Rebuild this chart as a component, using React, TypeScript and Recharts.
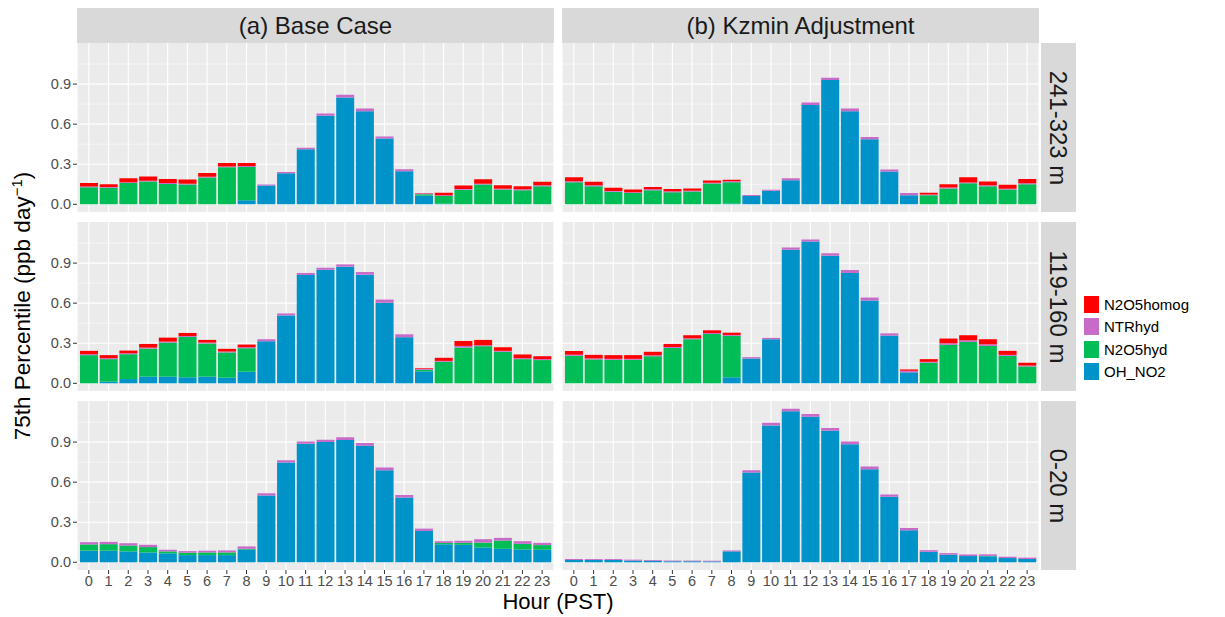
import React from 'react';
import { BarChart, Bar, XAxis, YAxis, CartesianGrid } from 'recharts';

const hours = ['0', '1', '2', '3', '4', '5', '6', '7', '8', '9', '10', '11', '12', '13', '14', '15', '16', '17', '18', '19', '20', '21', '22', '23'];
const yTicks = [0, 0.3, 0.6, 0.9];
const yMinor = [0.15, 0.45, 0.75, 1.05];

// (a) Base Case, 241-323 m
const baseHighOH = [0, 0, 0, 0, 0, 0, 0, 0, 0.03, 0.141, 0.232, 0.413, 0.663, 0.799, 0.697, 0.492, 0.247, 0.065, 0.005, 0, 0, 0, 0, 0];
const baseHighHyd = [0.128, 0.124, 0.16, 0.17, 0.153, 0.148, 0.2, 0.277, 0.25, 0, 0, 0, 0, 0, 0, 0, 0, 0.01, 0.057, 0.109, 0.148, 0.111, 0.106, 0.136];
const baseHighNtr = [0.006, 0.006, 0.006, 0.006, 0.006, 0.006, 0.006, 0.006, 0.006, 0.007, 0.01, 0.01, 0.017, 0.022, 0.02, 0.015, 0.015, 0.007, 0.006, 0.006, 0.006, 0.006, 0.006, 0.006];
const baseHighHomog = [0.026, 0.02, 0.029, 0.032, 0.031, 0.031, 0.029, 0.027, 0.024, 0, 0, 0, 0, 0, 0, 0, 0, 0.003, 0.019, 0.026, 0.034, 0.026, 0.024, 0.026];

// (b) Kzmin Adjustment, 241-323 m
const kzHighOH = [0, 0, 0, 0, 0, 0, 0, 0, 0.005, 0.062, 0.101, 0.18, 0.744, 0.93, 0.697, 0.487, 0.245, 0.067, 0, 0, 0, 0, 0, 0];
const kzHighHyd = [0.166, 0.136, 0.094, 0.084, 0.106, 0.091, 0.096, 0.156, 0.161, 0, 0, 0, 0, 0, 0, 0, 0, 0, 0.067, 0.119, 0.158, 0.136, 0.111, 0.151];
const kzHighNtr = [0.006, 0.006, 0.006, 0.006, 0.006, 0.006, 0.006, 0.006, 0.006, 0.007, 0.008, 0.015, 0.018, 0.017, 0.02, 0.017, 0.015, 0.017, 0.006, 0.006, 0.006, 0.006, 0.006, 0.006];
const kzHighHomog = [0.031, 0.026, 0.024, 0.021, 0.017, 0.017, 0.017, 0.016, 0.011, 0, 0, 0, 0, 0, 0, 0, 0, 0, 0.014, 0.026, 0.039, 0.029, 0.029, 0.033];

// (a) Base Case, 119-160 m
const baseMidOH = [0, 0.012, 0.032, 0.05, 0.05, 0.045, 0.05, 0.042, 0.087, 0.315, 0.508, 0.811, 0.85, 0.873, 0.813, 0.603, 0.345, 0.089, 0, 0, 0, 0, 0, 0];
const baseMidHyd = [0.211, 0.169, 0.186, 0.21, 0.255, 0.302, 0.248, 0.189, 0.176, 0, 0, 0, 0, 0, 0, 0, 0, 0.012, 0.161, 0.268, 0.278, 0.236, 0.181, 0.174];
const baseMidNtr = [0.007, 0.007, 0.007, 0.007, 0.007, 0.007, 0.007, 0.007, 0.007, 0.015, 0.015, 0.015, 0.015, 0.017, 0.02, 0.024, 0.022, 0.008, 0.007, 0.012, 0.007, 0.007, 0.007, 0.007];
const baseMidHomog = [0.025, 0.023, 0.02, 0.028, 0.03, 0.023, 0.02, 0.02, 0.02, 0, 0, 0, 0, 0, 0, 0, 0, 0.005, 0.023, 0.037, 0.04, 0.027, 0.028, 0.022];

// (b) Kzmin Adjustment, 119-160 m
const kzMidOH = [0, 0, 0, 0, 0, 0, 0, 0, 0.045, 0.186, 0.33, 0.999, 1.061, 0.955, 0.826, 0.62, 0.357, 0.082, 0, 0, 0, 0, 0, 0];
const kzMidHyd = [0.206, 0.179, 0.176, 0.176, 0.203, 0.265, 0.33, 0.369, 0.31, 0, 0, 0, 0, 0, 0, 0, 0, 0, 0.154, 0.288, 0.31, 0.28, 0.206, 0.126];
const kzMidNtr = [0.007, 0.007, 0.007, 0.007, 0.007, 0.007, 0.007, 0.007, 0.007, 0.01, 0.01, 0.018, 0.015, 0.019, 0.022, 0.022, 0.017, 0.012, 0.007, 0.012, 0.012, 0.012, 0.007, 0.007];
const kzMidHomog = [0.028, 0.027, 0.028, 0.028, 0.026, 0.023, 0.023, 0.021, 0.017, 0, 0, 0, 0, 0, 0, 0, 0, 0.01, 0.02, 0.035, 0.038, 0.038, 0.03, 0.021];

// (a) Base Case, 0-20 m
const baseLowOH = [0.087, 0.087, 0.082, 0.074, 0.067, 0.054, 0.054, 0.054, 0.096, 0.5, 0.747, 0.888, 0.9, 0.915, 0.873, 0.69, 0.485, 0.235, 0.135, 0.131, 0.111, 0.101, 0.096, 0.094];
const baseLowHyd = [0.047, 0.049, 0.044, 0.04, 0.015, 0.018, 0.02, 0.02, 0.005, 0, 0, 0, 0, 0, 0, 0, 0, 0, 0.01, 0.015, 0.037, 0.062, 0.042, 0.035];
const baseLowNtr = [0.017, 0.017, 0.017, 0.017, 0.012, 0.012, 0.013, 0.015, 0.018, 0.017, 0.017, 0.017, 0.017, 0.022, 0.02, 0.02, 0.019, 0.017, 0.013, 0.015, 0.025, 0.02, 0.02, 0.017];
const baseLowHomog = [0, 0, 0, 0, 0, 0, 0, 0, 0, 0, 0, 0, 0, 0, 0, 0, 0, 0, 0, 0, 0, 0, 0, 0];

// (b) Kzmin Adjustment, 0-20 m
const kzLowOH = [0.018, 0.018, 0.018, 0.013, 0.011, 0.008, 0.008, 0.007, 0.082, 0.673, 1.024, 1.13, 1.09, 0.984, 0.883, 0.697, 0.49, 0.24, 0.079, 0.057, 0.047, 0.045, 0.032, 0.025];
const kzLowHyd = [0, 0, 0, 0, 0, 0, 0, 0, 0, 0, 0, 0, 0, 0, 0, 0, 0, 0, 0, 0, 0, 0.003, 0, 0];
const kzLowNtr = [0.007, 0.007, 0.007, 0.007, 0.006, 0.005, 0.005, 0.005, 0.007, 0.017, 0.02, 0.02, 0.02, 0.022, 0.022, 0.02, 0.017, 0.017, 0.012, 0.012, 0.012, 0.012, 0.01, 0.01];
const kzLowHomog = [0, 0, 0, 0, 0, 0, 0, 0, 0, 0, 0, 0, 0, 0, 0, 0, 0, 0, 0, 0, 0, 0, 0, 0];

const columns = ['(a) Base Case', '(b) Kzmin Adjustment'];
const rows = ['241-323 m', '119-160 m', '0-20 m'];

const series = [
  { key: 'OH_NO2', color: '#0093C9' },
  { key: 'N2O5hyd', color: '#00BE55' },
  { key: 'NTRhyd', color: '#C86BC8' },
  { key: 'N2O5homog', color: '#FF0000' },
];

const panels = [
  [[baseHighOH, baseHighHyd, baseHighNtr, baseHighHomog], [kzHighOH, kzHighHyd, kzHighNtr, kzHighHomog]],
  [[baseMidOH, baseMidHyd, baseMidNtr, baseMidHomog], [kzMidOH, kzMidHyd, kzMidNtr, kzMidHomog]],
  [[baseLowOH, baseLowHyd, baseLowNtr, baseLowHomog], [kzLowOH, kzLowHyd, kzLowNtr, kzLowHomog]],
];

const FONT = '"Liberation Sans", Arial, Helvetica, sans-serif';
const PANEL_H = 169;
const rowTops = [43, 222, 401];
const colLefts = [77, 562];
const PANEL_W = 477;
const Y_AXIS_W = 77;
const X_AXIS_H = 32;

function Facet({ values, showY, showX }: { values: number[][]; showY: boolean; showX: boolean }) {
  const data = hours.map((h, i) => ({
    hour: h,
    OH_NO2: values[0][i],
    N2O5hyd: values[1][i],
    NTRhyd: values[2][i],
    N2O5homog: values[3][i],
  }));
  return (
    <BarChart
      width={PANEL_W + (showY ? Y_AXIS_W : 0)}
      height={PANEL_H + (showX ? X_AXIS_H : 0)}
      data={data}
      margin={{ top: 0, right: 0, bottom: 0, left: 0 }}
      barCategoryGap="5%"
    >
      <CartesianGrid fill="#EBEBEB" stroke="#FFFFFF" strokeWidth={0.55} vertical={false} horizontalValues={yMinor} />
      <CartesianGrid stroke="#FFFFFF" strokeWidth={1.1} horizontalValues={yTicks} />
      <XAxis
        dataKey="hour"
        hide={!showX}
        interval={0}
        padding={{ left: 2, right: 2 }}
        axisLine={false}
        tickLine={{ stroke: '#333333' }}
        tickSize={4}
        tickMargin={2}
        height={X_AXIS_H}
        tick={{ fill: '#4D4D4D', fontSize: 14.5, fontFamily: FONT }}
      />
      <YAxis
        type="number"
        domain={[-0.0575, 1.2075]}
        allowDataOverflow
        ticks={yTicks}
        interval={0}
        hide={!showY}
        width={Y_AXIS_W}
        axisLine={false}
        tickLine={{ stroke: '#333333' }}
        tickSize={4}
        tickMargin={2}
        tickFormatter={(v: number) => v.toFixed(1)}
        tick={{ fill: '#4D4D4D', fontSize: 14.5, fontFamily: FONT }}
      />
      {series.map((s) => (
        <Bar key={s.key} dataKey={s.key} stackId="a" fill={s.color} isAnimationActive={false} />
      ))}
    </BarChart>
  );
}

export default function App() {
  return (
    <div style={{ position: 'absolute', left: 0, top: 0, width: 1225, height: 617, background: '#fff', fontFamily: FONT }}>
      {columns.map((c, ci) => (
        <div
          key={c}
          style={{
            position: 'absolute', left: colLefts[ci], top: 8, width: PANEL_W, height: 35, background: '#D9D9D9',
            display: 'flex', alignItems: 'center', justifyContent: 'center', fontSize: 24, color: '#1A1A1A',
          }}
        >
          {c}
        </div>
      ))}
      {rows.map((r, ri) => (
        <div
          key={r}
          style={{
            position: 'absolute', left: 1041, top: rowTops[ri], width: 35, height: PANEL_H, background: '#D9D9D9',
            display: 'flex', alignItems: 'center', justifyContent: 'center',
          }}
        >
          <span style={{ transform: 'rotate(90deg)', whiteSpace: 'nowrap', fontSize: 24, color: '#1A1A1A' }}>{r}</span>
        </div>
      ))}
      {panels.map((row, ri) =>
        row.map((values, ci) => (
          <div
            key={`${ri}-${ci}`}
            style={{ position: 'absolute', left: ci === 0 ? 0 : colLefts[1], top: rowTops[ri] }}
          >
            <Facet values={values} showY={ci === 0} showX={ri === 2} />
          </div>
        ))
      )}
      <div style={{ position: 'absolute', left: 0, top: 589, width: 1116, textAlign: 'center', fontSize: 22, color: '#000' }}>
        Hour (PST)
      </div>
      <div
        style={{
          position: 'absolute', left: 22, top: 306, transform: 'translate(-50%, -50%) rotate(-90deg)',
          whiteSpace: 'nowrap', fontSize: 22.5, color: '#000',
        }}
      >
        75th Percentile (ppb day<sup style={{ fontSize: 15 }}>−1</sup>)
      </div>
      <div style={{ position: 'absolute', left: 1084, top: 293 }}>
        {[...series].reverse().map((s) => (
          <div key={s.key} style={{ display: 'flex', alignItems: 'center', height: 22.5 }}>
            <div style={{ width: 15, height: 17, background: s.color, marginRight: 5 }} />
            <span style={{ fontSize: 15, color: '#000' }}>{s.key}</span>
          </div>
        ))}
      </div>
    </div>
  );
}
